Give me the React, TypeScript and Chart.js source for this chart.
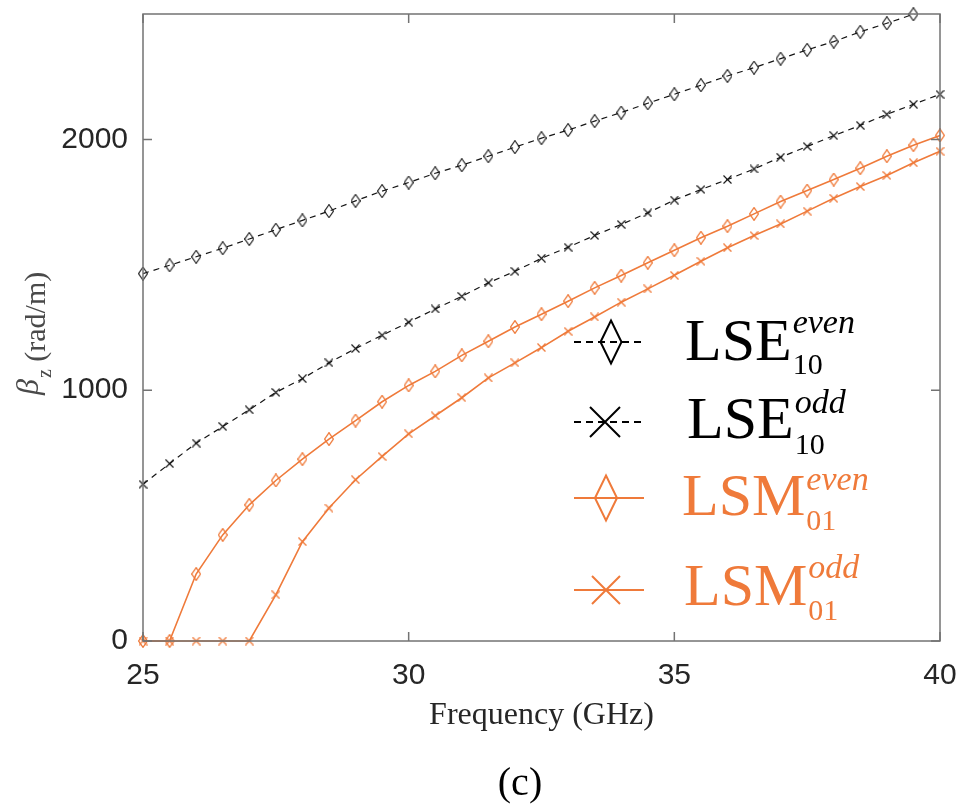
import React, { useEffect, useRef } from "react";
import { Chart, registerables } from "chart.js";

Chart.register(...registerables);

// ---------------- data ----------------
const frequencyGHz = [25, 25.5, 26, 26.5, 27, 27.5, 28, 28.5, 29, 29.5, 30, 30.5, 31, 31.5, 32, 32.5, 33, 33.5, 34, 34.5, 35, 35.5, 36, 36.5, 37, 37.5, 38, 38.5, 39, 39.5, 40];
const lseEven10 = [1465, 1498, 1532, 1566, 1603, 1640, 1677, 1714, 1755, 1794, 1828, 1865, 1897, 1933, 1969, 2005, 2037, 2073, 2107, 2144, 2180, 2216, 2253, 2286, 2322, 2357, 2390, 2429, 2463, 2499, 2533];
const lseOdd10 = [625, 707, 789, 855, 922, 991, 1046, 1109, 1166, 1219, 1271, 1324, 1374, 1428, 1474, 1526, 1570, 1617, 1661, 1707, 1758, 1800, 1840, 1882, 1929, 1972, 2015, 2056, 2100, 2140, 2180];
const lsmEven01 = [0, 0, 267, 423, 543, 640, 725, 805, 879, 954, 1019, 1075, 1139, 1195, 1252, 1303, 1355, 1408, 1457, 1508, 1558, 1608, 1654, 1703, 1752, 1796, 1840, 1885, 1933, 1977, 2016];
const lsmOdd01 = [0, 0, 0, 0, 0, 184, 396, 530, 643, 736, 826, 898, 970, 1049, 1109, 1170, 1235, 1292, 1351, 1404, 1458, 1514, 1568, 1617, 1663, 1714, 1765, 1812, 1856, 1907, 1953];

const xTicks = [25, 30, 35, 40];
const yTicks = [0, 1000, 2000];

const legendBase = ["LSE", "LSE", "LSM", "LSM"];
const legendSup = ["even", "odd", "even", "odd"];
const legendSub = ["10", "10", "01", "01"];

const xTitle = "Frequency (GHz)";
const yTitleSymbol = "β";
const yTitleSub = "z";
const yTitleUnit = " (rad/m)";
const caption = "(c)";

// ---------------- styles ----------------
const ORANGE = "#EF7A3A";
const BLACK = "#151515";
const AXIS = "#262626";
const FRAME = "#737373";
const SERIF = "'Liberation Serif', 'Times New Roman', Times, serif";
const SANS = "'Liberation Sans', Arial, Helvetica, sans-serif";

function pts(arr: number[]) {
  return frequencyGHz.map((f, i) => ({ x: f, y: arr[i] }));
}

function makeDiamond(w: number, h: number, color: string, lw: number) {
  const c = document.createElement("canvas");
  c.width = w;
  c.height = h;
  const g = c.getContext("2d")!;
  g.strokeStyle = color;
  g.lineWidth = lw;
  const m = lw / 2;
  g.beginPath();
  g.moveTo(w / 2, m);
  g.lineTo(w - m, h / 2);
  g.lineTo(w / 2, h - m);
  g.lineTo(m, h / 2);
  g.closePath();
  g.stroke();
  return c;
}

function makeCross(w: number, h: number, color: string, lw: number) {
  const c = document.createElement("canvas");
  c.width = w;
  c.height = h;
  const g = c.getContext("2d")!;
  g.strokeStyle = color;
  g.lineWidth = lw;
  g.beginPath();
  g.moveTo(0.5, 0.5);
  g.lineTo(w - 0.5, h - 0.5);
  g.moveTo(w - 0.5, 0.5);
  g.lineTo(0.5, h - 0.5);
  g.stroke();
  return c;
}

function pathDiamond(ctx: CanvasRenderingContext2D, cx: number, cy: number, w: number, h: number) {
  ctx.beginPath();
  ctx.moveTo(cx, cy - h / 2);
  ctx.lineTo(cx + w / 2, cy);
  ctx.lineTo(cx, cy + h / 2);
  ctx.lineTo(cx - w / 2, cy);
  ctx.closePath();
  ctx.stroke();
}

function pathCross(ctx: CanvasRenderingContext2D, cx: number, cy: number, w: number, h: number) {
  ctx.beginPath();
  ctx.moveTo(cx - w / 2, cy - h / 2);
  ctx.lineTo(cx + w / 2, cy + h / 2);
  ctx.moveTo(cx + w / 2, cy - h / 2);
  ctx.lineTo(cx - w / 2, cy + h / 2);
  ctx.stroke();
}

const decorPlugin = {
  id: "decor",
  afterDatasetsDraw(chart: any) {
    const { ctx, chartArea: a, scales } = chart;
    ctx.save();
    // frame
    ctx.strokeStyle = FRAME;
    ctx.lineWidth = 1.5;
    ctx.setLineDash([]);
    ctx.strokeRect(a.left, a.top, a.right - a.left, a.bottom - a.top);
    // inward ticks on all sides
    const tl = 9;
    ctx.beginPath();
    for (const v of xTicks) {
      const px = scales.x.getPixelForValue(v);
      ctx.moveTo(px, a.bottom);
      ctx.lineTo(px, a.bottom - tl);
      ctx.moveTo(px, a.top);
      ctx.lineTo(px, a.top + tl);
    }
    for (const v of yTicks) {
      const py = scales.y.getPixelForValue(v);
      ctx.moveTo(a.left, py);
      ctx.lineTo(a.left + tl, py);
      ctx.moveTo(a.right, py);
      ctx.lineTo(a.right - tl, py);
    }
    ctx.stroke();

    // legend
    const rows = [
      { lineY: 342, mx: 611, textX: 685, base: 360, sup: 333, sub: 374, color: "#000", dashed: true, marker: "d", mw: 21, mh: 43 },
      { lineY: 422, mx: 605, textX: 687, base: 438, sup: 413, sub: 454, color: "#000", dashed: true, marker: "x", mw: 30, mh: 30 },
      { lineY: 498, mx: 606, textX: 682, base: 515, sup: 490, sub: 530, color: ORANGE, dashed: false, marker: "d", mw: 22, mh: 45 },
      { lineY: 590, mx: 606, textX: 684, base: 605, sup: 578, sub: 620, color: ORANGE, dashed: false, marker: "x", mw: 28, mh: 28 },
    ];
    rows.forEach((r, i) => {
      ctx.strokeStyle = r.color;
      ctx.lineWidth = 2;
      ctx.setLineDash(r.dashed ? [7, 5] : []);
      ctx.beginPath();
      ctx.moveTo(574, r.lineY);
      ctx.lineTo(644, r.lineY);
      ctx.stroke();
      ctx.setLineDash([]);
      if (r.marker === "d") pathDiamond(ctx, r.mx, r.lineY, r.mw, r.mh);
      else pathCross(ctx, r.mx, r.lineY, r.mw, r.mh);

      ctx.fillStyle = r.color;
      ctx.textAlign = "left";
      ctx.textBaseline = "alphabetic";
      ctx.font = `60px ${SERIF}`;
      ctx.fillText(legendBase[i], r.textX, r.base);
      const bw = ctx.measureText(legendBase[i]).width;
      ctx.font = `italic 34px ${SERIF}`;
      ctx.fillText(legendSup[i], r.textX + bw + 1, r.sup);
      ctx.font = `30px ${SERIF}`;
      ctx.fillText(legendSub[i], r.textX + bw + 1, r.sub);
    });

    // x title
    ctx.fillStyle = AXIS;
    ctx.font = `32px ${SERIF}`;
    ctx.textAlign = "center";
    ctx.textBaseline = "alphabetic";
    ctx.fillText(xTitle, (a.left + a.right) / 2, 724);

    // y title (rotated)
    ctx.save();
    ctx.rotate(-Math.PI / 2);
    ctx.textAlign = "left";
    ctx.fillStyle = "#4a4a4a";
    let lx = -395;
    ctx.font = `italic 32px ${SERIF}`;
    ctx.fillText(yTitleSymbol, lx, 38);
    lx += ctx.measureText(yTitleSymbol).width + 1;
    ctx.font = `20px ${SERIF}`;
    ctx.fillText(yTitleSub, lx, 51);
    lx += ctx.measureText(yTitleSub).width;
    ctx.font = `30px ${SERIF}`;
    ctx.fillText(yTitleUnit, lx, 45);
    ctx.restore();

    // caption
    ctx.fillStyle = "#000";
    ctx.font = `40px ${SERIF}`;
    ctx.textAlign = "center";
    ctx.fillText(caption, 520, 795);

    ctx.restore();
  },
};

export default function App() {
  const ref = useRef<HTMLCanvasElement>(null);

  useEffect(() => {
    const canvas = ref.current!;
    const blackDiamond = makeDiamond(10, 14, BLACK, 1.1);
    const blackCross = makeCross(9, 9, BLACK, 1.1);
    const orangeDiamond = makeDiamond(10, 14, ORANGE, 1.3);
    const orangeCross = makeCross(9, 9, ORANGE, 1.3);

    const chart = new Chart(canvas, {
      type: "line",
      data: {
        datasets: [
          {
            label: "LSE10 even (line)",
            data: pts(lseEven10),
            borderColor: BLACK,
            borderWidth: 1.2,
            borderDash: [6, 5],
            pointRadius: 0,
            fill: false,
            tension: 0,
          },
          {
            label: "LSE10 even",
            data: pts(lseEven10),
            showLine: false,
            pointStyle: blackDiamond as any,
            pointRadius: 4,
            pointBorderWidth: 1,
            clip: false as any,
          },
          {
            label: "LSE10 odd",
            data: pts(lseOdd10),
            borderColor: BLACK,
            borderWidth: 1.2,
            borderDash: [6, 5],
            pointStyle: blackCross as any,
            pointRadius: 4,
            fill: false,
            tension: 0,
            clip: false as any,
          },
          {
            label: "LSM01 even",
            data: pts(lsmEven01),
            borderColor: ORANGE,
            borderWidth: 1.6,
            pointStyle: orangeDiamond as any,
            pointRadius: 4,
            fill: false,
            tension: 0,
            clip: false as any,
          },
          {
            label: "LSM01 odd",
            data: pts(lsmOdd01),
            borderColor: ORANGE,
            borderWidth: 1.6,
            pointStyle: orangeCross as any,
            pointRadius: 4,
            fill: false,
            tension: 0,
            clip: false as any,
          },
        ],
      },
      options: {
        responsive: false,
        animation: false,
        layout: { padding: { left: 0, top: 14, right: 20, bottom: 0 } },
        plugins: { legend: { display: false }, tooltip: { enabled: false }, title: { display: false } },
        events: [],
        scales: {
          x: {
            type: "linear",
            min: 25,
            max: 40,
            grid: { display: false, drawTicks: false },
            border: { display: false },
            afterBuildTicks: (s: any) => {
              s.ticks = xTicks.map((v) => ({ value: v }));
            },
            afterFit: (s: any) => {
              s.height = 164;
              s.paddingLeft = 0;
              s.paddingRight = 0;
            },
            ticks: {
              color: AXIS,
              font: { family: SANS, size: 30 },
              padding: 17,
              maxRotation: 0,
              autoSkip: false,
              callback: (v: any) => String(v),
            },
          },
          y: {
            type: "linear",
            min: 0,
            max: 2500,
            grid: { display: false, drawTicks: false },
            border: { display: false },
            afterBuildTicks: (s: any) => {
              s.ticks = yTicks.map((v) => ({ value: v }));
            },
            afterFit: (s: any) => {
              s.width = 143;
              s.paddingTop = 0;
              s.paddingBottom = 0;
            },
            ticks: {
              color: AXIS,
              font: { family: SANS, size: 30 },
              padding: 15,
              autoSkip: false,
              callback: (v: any) => String(v),
            },
          },
        },
      },
      plugins: [decorPlugin as any],
    });
    return () => chart.destroy();
  }, []);

  return (
    <div style={{ position: "absolute", left: 0, top: 0, width: 960, height: 805, background: "#fff" }}>
      <canvas ref={ref} width={960} height={805} style={{ display: "block", width: 960, height: 805 }} />
    </div>
  );
}
